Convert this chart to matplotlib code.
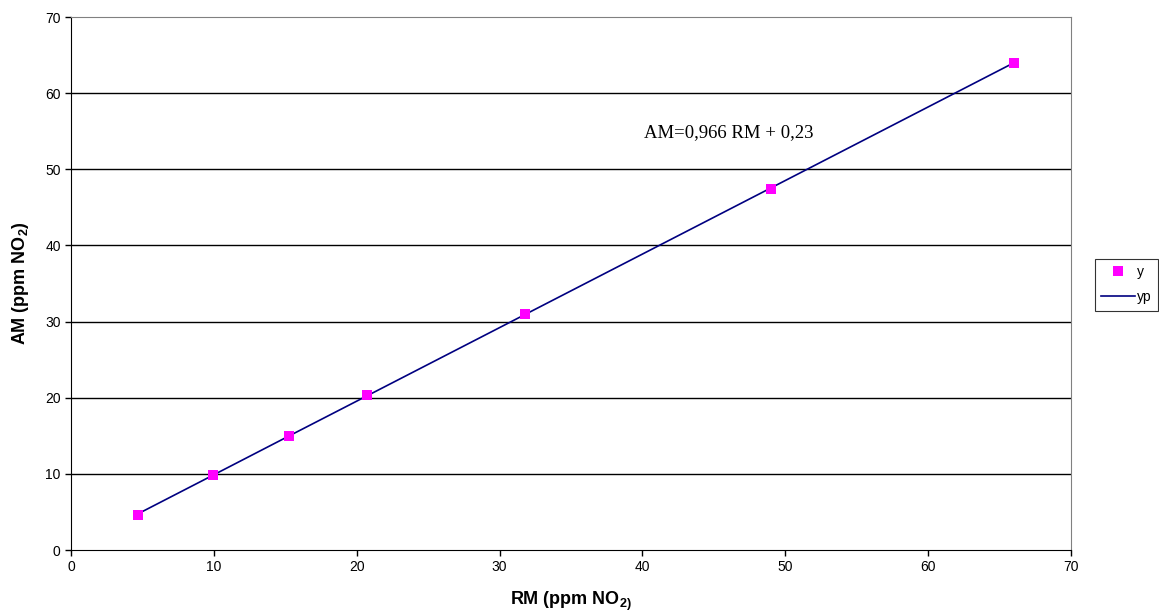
import matplotlib.pyplot as plt

plt.rc('font', family='Liberation Sans')

#data
rm = [4.67, 9.96, 15.28, 20.7, 31.8, 49.0, 66.0]
am = [4.6, 9.8, 15.0, 20.4, 31.0, 47.4, 64.0]
yp = [4.74, 9.85, 15.0, 20.23, 30.95, 47.56, 63.99]
xticks = [0, 10, 20, 30, 40, 50, 60, 70]
yticks = [0, 10, 20, 30, 40, 50, 60, 70]

fig = plt.figure(figsize=(11.59, 6.14), dpi=100)
ax = fig.add_axes([0.0613, 0.1042, 0.8628, 0.8681])

for yv in yticks[1:-1]:
    ax.axhline(yv, color='black', linewidth=1, zorder=1)

ax.plot(rm, am, 's', color='#ff00ff', markersize=7, markeredgewidth=0, label='y', zorder=3)
ax.plot(rm, yp, '-', color='#000080', linewidth=1.2, label='yp', zorder=2)

#equation of the fit
ax.text(46.05, 54.8, 'AM=0,966 RM + 0,23', fontsize=13.5,
        family='Liberation Serif', ha='center', va='center')

ax.set_xlim(0, 70)
ax.set_ylim(0, 70)
ax.set_xticks(xticks)
ax.set_yticks(yticks)
ax.tick_params(direction='out', length=4, width=1, labelsize=10, color='black')
ax.spines['left'].set_color('black')
ax.spines['bottom'].set_color('black')
ax.spines['top'].set_color('#808080')
ax.spines['right'].set_color('#808080')
ax.spines['top'].set_linewidth(0.8)
ax.spines['right'].set_linewidth(0.8)

ax.set_xlabel('RM (ppm NO$_\\mathregular{2)}$', fontsize=13, fontweight='bold', labelpad=11)
ax.set_ylabel('AM (ppm NO$_\\mathregular{2}$)', fontsize=13, fontweight='bold', labelpad=10)

leg = ax.legend(loc='upper left', bbox_to_anchor=(1.024, 0.546), borderaxespad=0,
                fontsize=10, frameon=True, fancybox=False, edgecolor='black',
                borderpad=0.45, handlelength=2.4, handletextpad=0.2, labelspacing=0.8)
leg.get_frame().set_linewidth(0.8)

fig.savefig('out.png', dpi=100)
